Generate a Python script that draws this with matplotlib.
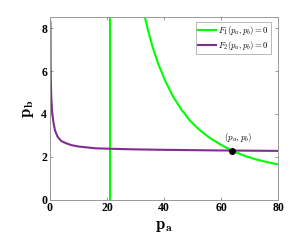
import matplotlib
matplotlib.use('Agg')
import matplotlib.pyplot as plt

# curve F1(pa,pb)=0 : vertical branch + hyperbola-like branch
f1_vert_x = [21.0, 21.0]
f1_vert_y = [0.0, 8.5]
f1_x = [33.3, 34.5, 36.0, 38.0, 40.4, 43.0, 46.0, 49.0, 52.0, 56.0, 60.0, 63.7, 68.0, 72.0, 76.0, 80.0]
f1_y = [8.5, 7.85, 7.12, 6.32, 5.55, 4.85, 4.22, 3.70, 3.30, 2.88, 2.55, 2.29, 2.05, 1.88, 1.75, 1.64]

# curve F2(pa,pb)=0
f2_x = [0.2, 0.25, 0.35, 0.5, 0.8, 1.2, 1.8, 2.7, 4.0, 5.6, 7.5, 10.3, 16.1, 21.0, 30.0, 40.0, 60.0, 80.0]
f2_y = [8.28, 6.28, 5.40, 4.73, 4.05, 3.64, 3.22, 2.93, 2.73, 2.63, 2.54, 2.47, 2.39, 2.37, 2.34, 2.32, 2.29, 2.27]

# equilibrium point
eq_x = 63.7
eq_y = 2.28

plt.rcParams['mathtext.fontset'] = 'cm'
plt.rcParams['font.family'] = 'Liberation Serif'

fig = plt.figure(figsize=(3.08, 2.46), dpi=100)
ax = fig.add_axes([0.162, 0.189, 0.741, 0.740])

ax.plot(f1_vert_x, f1_vert_y, color='#00FF00', lw=1.5)
ax.plot(f1_x, f1_y, color='#00FF00', lw=1.5, label=r'$F_1(p_a,p_b)=0$')
ax.plot(f2_x, f2_y, color='#7E2F8E', lw=1.5, label=r'$F_2(p_a,p_b)=0$')
ax.plot([eq_x], [eq_y], 'o', color='black', ms=4)
ax.text(eq_x + 2.4, eq_y + 0.62, r'$(p_a,p_b)$', fontsize=6.5, ha='center', va='center')

ax.set_xlim(0, 80)
ax.set_ylim(0, 8.5)
ax.set_xticks([0, 20, 40, 60, 80])
ax.set_yticks([0, 2, 4, 6, 8])
ax.tick_params(direction='in', top=True, right=True, length=2.5, width=0.6,
               color='#888888', labelsize=8.5, pad=2)
for lab in ax.get_xticklabels() + ax.get_yticklabels():
    lab.set_fontweight('bold')
for s in ax.spines.values():
    s.set_color('#999999')
    s.set_linewidth(0.7)

ax.set_xlabel(r'$\mathbf{p_a}$', fontsize=12, labelpad=3)
ax.set_ylabel(r'$\mathbf{p_b}$', fontsize=12, labelpad=4)

leg = ax.legend(loc='upper right', fontsize=6.2, handlelength=2.0, handletextpad=0.3,
                borderpad=0.25, labelspacing=0.2, fancybox=False,
                bbox_to_anchor=(0.97, 0.975), borderaxespad=0)
leg.get_frame().set_edgecolor('#999999')
leg.get_frame().set_linewidth(0.6)

plt.savefig('out.png', dpi=100)
